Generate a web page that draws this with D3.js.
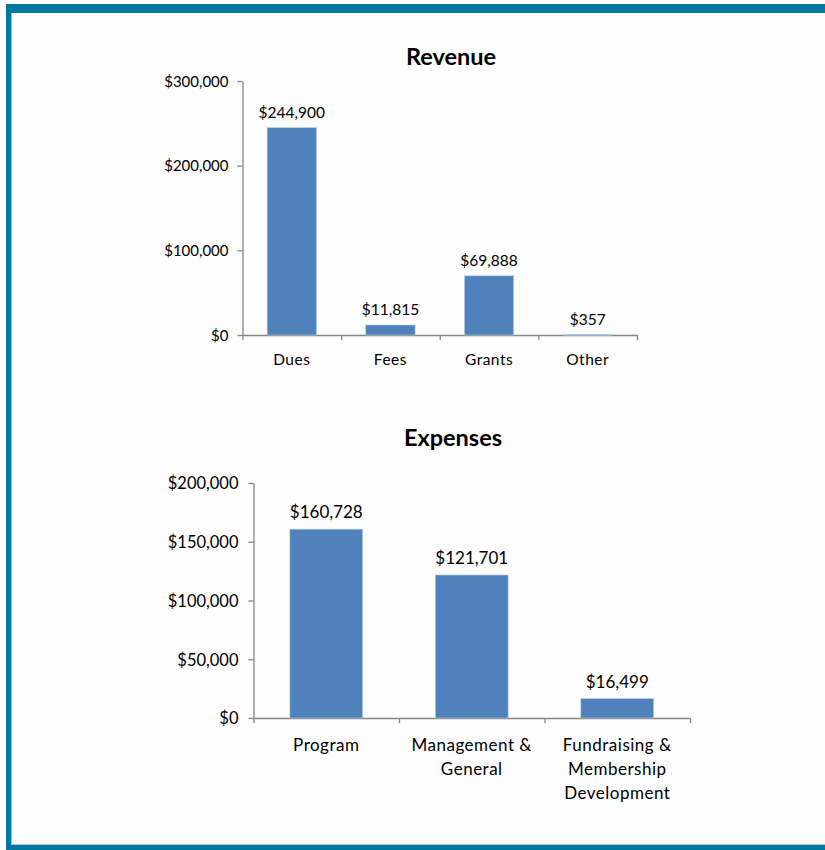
<!DOCTYPE html>
<html>
<head>
    <meta charset="utf-8">
    <title>Revenue and Expenses</title>
    <script src="https://cdn.jsdelivr.net/npm/d3@7"></script>
    <style>
        body { margin: 0; background: #fff; }
        text { font-family: Lato, "Open Sans", sans-serif; fill: #000; }
    </style>
</head>
<body>
<div id="chart"></div>
<script>
    // revenue chart data
    const revenueCategories = ["Dues", "Fees", "Grants", "Other"];
    const revenueValues = [244900, 11815, 69888, 357];
    const revenueTicks = [0, 100000, 200000, 300000];

    // expenses chart data (\n = line break in label)
    const expenseCategories = ["Program", "Management &\nGeneral", "Fundraising &\nMembership\nDevelopment"];
    const expenseValues = [160728, 121701, 16499];
    const expenseTicks = [0, 50000, 100000, 150000, 200000];

    const BAR = "#4f81bd";
    const AXIS = "#868686";
    const fmt = d3.format("$,");

    const svg = d3.select("#chart").append("svg")
        .attr("width", 825)
        .attr("height", 850);

    // teal frame
    svg.append("rect").attr("x", 6).attr("y", 4).attr("width", 830).attr("height", 846).attr("fill", "#00779e");
    svg.append("rect").attr("x", 11).attr("y", 13).attr("width", 830).attr("height", 832).attr("fill", "#9cc6d6");
    svg.append("rect").attr("x", 12).attr("y", 13).attr("width", 830).attr("height", 831).attr("fill", "#fdfdfd");

    function drawChart(opt) {
        const g = svg.append("g").attr("transform", "translate(" + opt.left + "," + opt.top + ")");
        const x = d3.scaleBand().domain(opt.cats).range([0, opt.width]).paddingInner(0).paddingOuter(0);
        const y = d3.scaleLinear().domain([0, d3.max(opt.ticks)]).range([opt.height, 0]);

        // title
        svg.append("text")
            .attr("x", opt.titleX)
            .attr("y", opt.titleY)
            .attr("text-anchor", "middle")
            .style("font-size", "23.5px")
            .style("font-weight", "bold")
            .text(opt.title);

        // y axis
        const ya = g.append("g")
            .call(d3.axisLeft(y).tickValues(opt.ticks).tickFormat(fmt).tickSize(5).tickSizeOuter(0).tickPadding(opt.tickPad));
        ya.selectAll("text").style("font-size", opt.fontSize + "px").attr("dy", "0.35em");

        // x axis: line + ticks at band edges
        const edges = d3.scaleLinear().domain([0, opt.cats.length]).range([0, opt.width]);
        g.append("g")
            .attr("transform", "translate(0," + opt.height + ")")
            .call(d3.axisBottom(edges).tickValues(d3.range(opt.cats.length + 1)).tickFormat("").tickSize(5).tickSizeOuter(0));

        g.selectAll(".domain, .tick line").attr("stroke", AXIS).attr("stroke-width", 1.3);

        // bars
        g.selectAll("rect.bar")
            .data(opt.values)
            .enter()
            .append("rect")
            .attr("class", "bar")
            .attr("x", (d, i) => x(opt.cats[i]) + x.bandwidth() / 4)
            .attr("width", x.bandwidth() / 2)
            .attr("y", d => y(d))
            .attr("height", d => Math.max(1, opt.height - y(d)))
            .attr("fill", BAR)
            .attr("stroke", "#b9cde5")
            .attr("stroke-width", 0.6);

        // value labels
        g.selectAll("text.val")
            .data(opt.values)
            .enter()
            .append("text")
            .attr("class", "val")
            .attr("x", (d, i) => x(opt.cats[i]) + x.bandwidth() / 2)
            .attr("y", d => y(d) - opt.valGap)
            .attr("text-anchor", "middle")
            .style("font-size", opt.valSize + "px")
            .text(d => fmt(d));

        // category labels
        opt.cats.forEach(function (c, i) {
            const t = g.append("text")
                .attr("text-anchor", "middle")
                .style("font-size", opt.catSize + "px")
                .style("letter-spacing", "0.5px");
            c.split("\n").forEach(function (line, j) {
                t.append("tspan")
                    .attr("x", x(c) + x.bandwidth() / 2)
                    .attr("y", opt.height + opt.catGap + j * opt.lineH)
                    .text(line);
            });
        });
    }

    drawChart({
        title: "Revenue", titleX: 451, titleY: 65,
        cats: revenueCategories, values: revenueValues, ticks: revenueTicks,
        left: 242.5, top: 81, width: 394.5, height: 254,
        fontSize: 15, valSize: 15.5, catSize: 15.5, tickPad: 9, valGap: 10, catGap: 30, lineH: 23
    });

    drawChart({
        title: "Expenses", titleX: 453, titleY: 446,
        cats: expenseCategories, values: expenseValues, ticks: expenseTicks,
        left: 253.5, top: 483, width: 436.5, height: 235,
        fontSize: 16.5, valSize: 17, catSize: 17, tickPad: 10, valGap: 11, catGap: 33, lineH: 24
    });
</script>
</body>
</html>
